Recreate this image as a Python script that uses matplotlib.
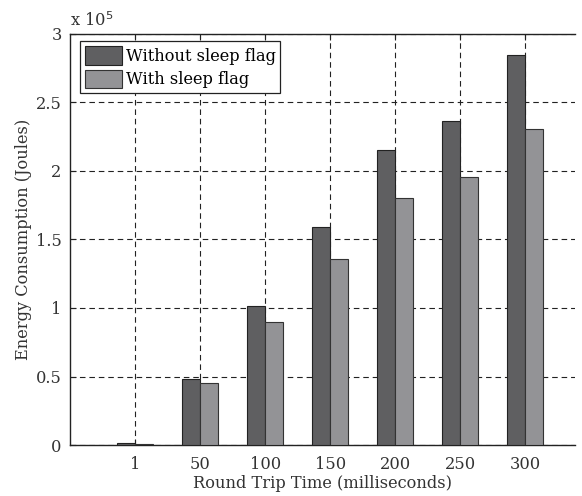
import numpy as np
import matplotlib
matplotlib.use("Agg")
import matplotlib.pyplot as plt

# data (energy in units of 1e5 J)
rtt_labels = ['1', '50', '100', '150', '200', '250', '300']
without_sleep = [0.012, 0.48, 1.017, 1.594, 2.153, 2.367, 2.847]
with_sleep = [0.010, 0.455, 0.90, 1.355, 1.80, 1.954, 2.307]

plt.rcParams['font.family'] = ['DejaVu Serif']
plt.rcParams['font.size'] = 11.7

fig = plt.figure(figsize=(5.82, 4.96), dpi=100)
ax = fig.add_axes([0.1203, 0.1028, 0.868, 0.8287])

x = np.arange(1, len(rtt_labels) + 1)
w = 0.28
ax.bar(x - w / 2, without_sleep, w, color='#5f5f61', edgecolor='#222222',
       linewidth=0.8, label='Without sleep flag', zorder=3)
ax.bar(x + w / 2, with_sleep, w, color='#939396', edgecolor='#333333',
       linewidth=0.8, label='With sleep flag', zorder=3)

ax.set_xlim(0, 7.77)
ax.set_ylim(0, 3)
ax.set_xticks(x)
ax.set_xticklabels(rtt_labels)
ax.set_yticks([0, 0.5, 1, 1.5, 2, 2.5, 3])
ax.set_yticklabels(['0', '0.5', '1', '1.5', '2', '2.5', '3'])
ax.tick_params(direction='in', length=4, top=True, right=False, color='#222222',
               labelcolor='#333333')
ax.tick_params(axis='x', pad=8)
ax.tick_params(axis='y', pad=6)
ax.spines['right'].set_visible(False)
for s in ['left', 'bottom', 'top']:
    ax.spines[s].set_color('#222222')
    ax.spines[s].set_linewidth(1.0)

ax.grid(True, color='#222222', linestyle=(0, (5, 3.5)), linewidth=0.8, zorder=0)
ax.set_axisbelow(True)

ax.set_xlabel('Round Trip Time (milliseconds)', color='#333333', labelpad=1)
ax.set_ylabel('Energy Consumption (Joules)', color='#333333', labelpad=3)
ax.text(0.0, 1.01, r'x 10$^{5}$', transform=ax.transAxes, ha='left', va='bottom',
        color='#333333')

leg = ax.legend(loc='upper left', bbox_to_anchor=(0.02, 0.983), fancybox=False,
                edgecolor='#222222', framealpha=1, handlelength=2.3,
                handleheight=1.4, borderpad=0.3, labelspacing=0.3,
                handletextpad=0.2, borderaxespad=0)
leg.get_frame().set_linewidth(0.9)

fig.savefig('out.png', dpi=100)
